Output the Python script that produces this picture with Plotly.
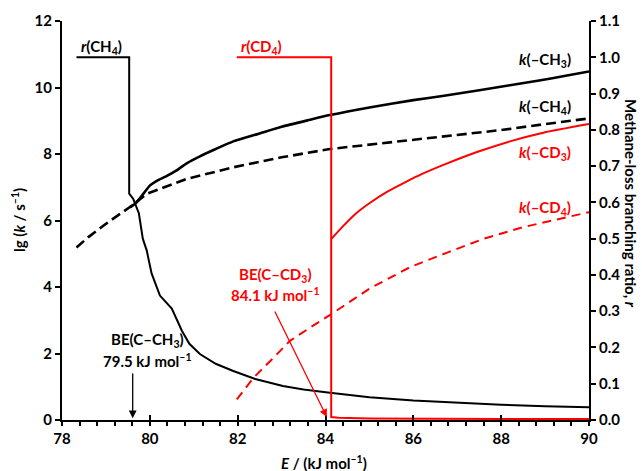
import plotly.graph_objects as go

# ---- data ----
E_kCH3 = [79.55, 79.7, 79.85, 80.0, 80.2, 80.4, 80.6, 80.84, 81.14, 81.5, 81.9, 82.5, 83.0, 83.65, 84.1, 85.0, 86.0, 86.7, 87.5, 88.2, 88.9, 89.5, 90.0]
lg_kCH3 = [6.39, 6.55, 6.8, 7.05, 7.22, 7.35, 7.5, 7.72, 7.93, 8.15, 8.38, 8.62, 8.82, 9.03, 9.17, 9.4, 9.62, 9.75, 9.92, 10.07, 10.22, 10.36, 10.48]

E_kCH4 = [78.33, 78.6, 79.0, 79.53, 79.93, 80.23, 80.84, 81.9, 83.0, 84.1, 85.0, 86.0, 87.0, 88.0, 89.0, 90.0]
lg_kCH4 = [5.19, 5.5, 5.9, 6.39, 6.8, 6.95, 7.25, 7.6, 7.9, 8.15, 8.28, 8.42, 8.56, 8.72, 8.9, 9.07]

E_kCD3 = [84.13, 84.4, 84.7, 85.0, 85.4, 85.8, 86.2, 86.7, 87.45, 88.2, 88.96, 90.0]
lg_kCD3 = [5.44, 5.83, 6.22, 6.52, 6.86, 7.14, 7.4, 7.68, 8.06, 8.38, 8.64, 8.9]

E_kCD4 = [81.98, 82.36, 82.8, 83.19, 83.65, 84.15, 85.0, 85.93, 86.8, 87.6, 88.5, 89.3, 90.0]
lg_kCD4 = [0.62, 1.27, 1.85, 2.38, 2.78, 3.2, 3.95, 4.6, 5.05, 5.45, 5.8, 6.05, 6.25]

E_rCH4 = [78.33, 79.53, 79.53, 79.62, 79.75, 79.84, 79.93, 80.04, 80.23, 80.5, 80.73, 80.9, 81.14, 81.5, 81.9, 82.4, 83.03, 83.5, 84.1, 85.0, 86.0, 87.0, 88.0, 89.0, 90.0]
r_CH4 = [1.0, 1.0, 0.624, 0.61, 0.57, 0.50, 0.467, 0.404, 0.343, 0.307, 0.246, 0.21, 0.182, 0.155, 0.135, 0.113, 0.094, 0.084, 0.075, 0.063, 0.054, 0.047, 0.042, 0.038, 0.035]

E_rCD4 = [81.98, 84.13, 84.13, 84.3, 85.0, 86.0, 88.0, 90.0]
r_CD4 = [1.0, 1.0, 0.008, 0.006, 0.004, 0.003, 0.003, 0.003]

x_ticks = [78, 80, 82, 84, 86, 88, 90]
y_ticks = [0, 2, 4, 6, 8, 10, 12]
r_ticks = [0.0, 0.1, 0.2, 0.3, 0.4, 0.5, 0.6, 0.7, 0.8, 0.9, 1.0, 1.1]

BLACK = "#000000"
RED = "#ff0000"
FONT = "Lato"

fig = go.Figure()
fig.add_trace(go.Scatter(x=E_kCH3, y=lg_kCH3, mode="lines", line=dict(color=BLACK, width=2.6, shape="spline", smoothing=0.6), xaxis="x", yaxis="y"))
fig.add_trace(go.Scatter(x=E_kCH4, y=lg_kCH4, mode="lines", line=dict(color=BLACK, width=2.6, dash="10px,5px"), xaxis="x", yaxis="y"))
fig.add_trace(go.Scatter(x=E_kCD3, y=lg_kCD3, mode="lines", line=dict(color=RED, width=2, shape="spline", smoothing=0.6), xaxis="x", yaxis="y"))
fig.add_trace(go.Scatter(x=E_kCD4, y=lg_kCD4, mode="lines", line=dict(color=RED, width=2, dash="9px,6px"), xaxis="x", yaxis="y"))
fig.add_trace(go.Scatter(x=E_rCH4, y=r_CH4, mode="lines", line=dict(color=BLACK, width=2), xaxis="x", yaxis="y2"))
fig.add_trace(go.Scatter(x=E_rCD4, y=r_CD4, mode="lines", line=dict(color=RED, width=2), xaxis="x", yaxis="y2"))

tickfont = dict(family=FONT, size=15, color=BLACK, weight="bold")
lab = dict(family=FONT, size=15, color=BLACK, weight="bold")
labr = dict(family=FONT, size=15, color=RED, weight="bold")

def txt(x, y, s, font):
    fig.add_annotation(x=x, y=y, xref="x", yref="y", text=s, showarrow=False, font=font,
                       xanchor="center", yanchor="middle")

txt(89.0, 10.83, "<i>k</i>(–CH<sub>3</sub>)", lab)
txt(89.0, 9.41, "<i>k</i>(–CH<sub>4</sub>)", lab)
txt(89.0, 8.03, "<i>k</i>(–CD<sub>3</sub>)", labr)
txt(89.0, 6.38, "<i>k</i>(–CD<sub>4</sub>)", labr)
txt(78.91, 11.22, "<i>r</i>(CH<sub>4</sub>)", lab)
txt(82.55, 11.22, "<i>r</i>(CD<sub>4</sub>)", labr)
txt(79.94, 2.41, "BE(C–CH<sub>3</sub>)", lab)
txt(79.94, 1.80, "79.5 kJ mol<sup>–1</sup>", lab)
txt(82.85, 4.36, "BE(C–CD<sub>3</sub>)", labr)
txt(82.87, 3.76, "84.1 kJ mol<sup>–1</sup>", labr)

# arrows
fig.add_annotation(x=79.61, y=0.05, ax=79.61, ay=1.44, xref="x", yref="y", axref="x", ayref="y",
                   text="", showarrow=True, arrowhead=2, arrowsize=1.2, arrowwidth=1.3, arrowcolor=BLACK)
fig.add_annotation(x=84.03, y=0.09, ax=82.83, ay=3.31, xref="x", yref="y", axref="x", ayref="y",
                   text="", showarrow=True, arrowhead=2, arrowsize=1.2, arrowwidth=1.3, arrowcolor=RED)

# axis titles (positions given in window pixels, converted below)
fig.add_annotation(x=18, y=220, xref="paper", yref="paper", text="lg (<i>k</i> / s<sup>–1</sup>)",
                   showarrow=False, textangle=-90, font=lab, xanchor="center", yanchor="middle")
fig.add_annotation(x=631, y=203, xref="paper", yref="paper", text="Methane-loss branching ratio, <i>r</i>",
                   showarrow=False, textangle=90, font=lab, xanchor="center", yanchor="middle")
fig.add_annotation(x=324, y=462, xref="paper", yref="paper", text="<i>E</i> / (kJ mol<sup>–1</sup>)",
                   showarrow=False, font=lab, xanchor="center", yanchor="middle")

W, H = 642, 471
L, R, T, B = 62, 53, 21, 51
for a in fig.layout.annotations:
    if a.xref == "paper":
        a.x = (a.x - L) / (W - L - R)
        a.y = 1 - (a.y - T) / (H - T - B)

fig.update_layout(
    width=W, height=H, margin=dict(l=L, r=R, t=T, b=B),
    paper_bgcolor="white", plot_bgcolor="white", showlegend=False,
    xaxis=dict(range=[78, 90], tickvals=x_ticks, ticks="outside", ticklen=4, tickwidth=1.5, tickcolor=BLACK,
               showline=True, linewidth=2, linecolor=BLACK, showgrid=False, zeroline=False,
               tickfont=tickfont, minor=dict(dtick=0.4, tick0=78, ticks="outside", ticklen=4, tickwidth=1.5, tickcolor=BLACK),
               anchor="y"),
    xaxis2=dict(range=[78, 90], overlaying="x", tickvals=x_ticks, ticks="inside", ticklen=5, tickwidth=1.5,
                tickcolor=BLACK, showticklabels=False, showline=False, showgrid=False, zeroline=False,
                side="bottom", anchor="y"),
    yaxis=dict(range=[0, 12], tickvals=y_ticks, ticks="outside", ticklen=5, tickwidth=1.5, tickcolor=BLACK,
               showline=True, linewidth=2, linecolor=BLACK, showgrid=False, zeroline=False, tickfont=tickfont),
    yaxis2=dict(range=[0, 1.1], tickvals=r_ticks, tickformat=".1f", overlaying="y", side="right",
                ticks="outside", ticklen=5, tickwidth=1.5, tickcolor=BLACK, showline=True, linewidth=2,
                linecolor=BLACK, showgrid=False, zeroline=False, tickfont=tickfont, anchor="x"),
)
fig.add_trace(go.Scatter(x=[78], y=[0], mode="markers", marker=dict(opacity=0), xaxis="x2", yaxis="y", hoverinfo="skip"))

fig.write_html("out.html", config={"displayModeBar": False},
               post_script="document.body.style.margin='0';document.body.style.padding='0';")
